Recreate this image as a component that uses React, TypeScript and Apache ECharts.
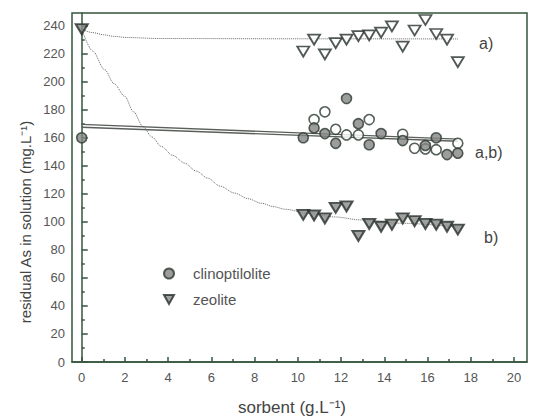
import React, { useEffect, useRef } from "react";
import * as echarts from "echarts";

// x positions of measured points (g/L)
const xPts = [10.25, 10.75, 11.25, 11.75, 12.25, 12.8, 13.3, 13.85, 14.35, 14.85, 15.4, 15.9, 16.4, 16.9, 17.4];

// zeolite a) (open triangles)
const zeoliteA = [221.5, 230, 219.5, 227.5, 230, 232.5, 233, 235, 239.5, 225, 236.5, 244, 234, 230, 214];
// zeolite b) (filled triangles)
const zeoliteB = [105, 104.5, 102.5, 110, 111, 90, 98.5, 96.5, 98, 102.5, 100.5, 98.5, 98, 96.5, 94.5];

// clinoptilolite filled circles [x, y]
const clinoFilled: [number, number][] = [
  [0, 160], [10.25, 160], [10.75, 167], [11.25, 163], [11.75, 156], [12.25, 188],
  [12.8, 170], [13.3, 155], [13.85, 163], [14.85, 158], [15.9, 154.5], [16.4, 160],
  [16.9, 148], [17.4, 149],
];
// clinoptilolite open circles [x, y]
const clinoOpen: [number, number][] = [
  [10.75, 173], [11.25, 178.5], [11.75, 166], [12.25, 162], [12.8, 162], [13.3, 173],
  [14.85, 162.5], [15.4, 152.5], [15.9, 152], [16.4, 151.5], [17.4, 156],
];
// zeolite start point (x = 0)
const zeoliteStart: [number, number][] = [[0, 237.5]];

// fitted curves
const fitA: [number, number][] = [
  [0, 237.5], [0.5, 235], [1, 233.5], [1.5, 232.3], [2.1, 231.5], [3.6, 230.8], [10, 230.6], [17.4, 230.5],
];
const fitB: [number, number][] = [
  [0, 237.5], [0.5, 222], [1.06, 208.6], [1.5, 198.5], [1.99, 189.5], [2.4, 178.5], [2.83, 168], [3.25, 160.5], [3.68, 153.8], [4.2, 147.5], [4.76, 141.9],
  [5.3, 136.2], [5.83, 131.2], [6.4, 125.5], [7.07, 120.5], [7.7, 116.5], [8.3, 113.3], [8.9, 110.8], [9.4, 109], [10.5, 106], [11.7, 103.5], [12.9, 101.4], [14.8, 99], [17.4, 96.3],
];
const lineAB1: [number, number][] = [[0, 169.5], [17.4, 159]];
const lineAB2: [number, number][] = [[0, 167.5], [17.4, 157.5]];

const xMajor = [0, 2, 4, 6, 8, 10, 12, 14, 16, 18, 20];
const xMinor = [1, 3, 5, 7, 9, 11, 13, 15, 17, 19];
const yMajor = [0, 20, 40, 60, 80, 100, 120, 140, 160, 180, 200, 220, 240];
const yMinor = [10, 30, 50, 70, 90, 110, 130, 150, 170, 190, 210, 230];

const FRAME = "#34563e";
const LABEL = "#555";
const FONT = "Liberation Sans, Arial, sans-serif";
const TRI_DOWN = "path://M0,0 L10,0 L5,9 Z";

export default function App() {
  const ref = useRef<HTMLDivElement>(null);
  useEffect(() => {
    if (!ref.current) return;
    const chart = echarts.init(ref.current, null, { renderer: "svg" });
    const xMin = -0.45;
    const xMax = 20.6;
    const yMin = 0;
    const yMax = 249;
    const filledCircle = { color: "#858585", borderColor: "#2b3a2f", borderWidth: 1.6 };
    const openCircle = { color: "#ffffff", borderColor: "#2b3a2f", borderWidth: 1.6 };
    const filledTri = { color: "#8a8a8a", borderColor: "#26302a", borderWidth: 2 };
    const openTri = { color: "#ffffff", borderColor: "#26302a", borderWidth: 1.8 };
    chart.setOption({
      animation: false,
      backgroundColor: "#ffffff",
      textStyle: { fontFamily: FONT },
      grid: {
        left: 72, right: 7, top: 13, bottom: 55,
        show: true, borderColor: FRAME, borderWidth: 1.5, backgroundColor: "transparent",
      },
      xAxis: [
        {
          type: "value", min: xMin, max: xMax, position: "bottom",
          axisLine: { show: true, lineStyle: { color: FRAME, width: 1.5 } },
          axisTick: { show: true, inside: true, length: 5, customValues: xMajor, lineStyle: { color: FRAME, width: 1.5 } },
          axisLabel: { show: true, customValues: xMajor, color: LABEL, fontSize: 13, margin: 9, fontFamily: FONT },
          splitLine: { show: false },
        },
        {
          type: "value", min: xMin, max: xMax, position: "bottom",
          axisLine: { show: false },
          axisTick: { show: true, inside: true, length: 3, customValues: xMinor, lineStyle: { color: FRAME, width: 1.5 } },
          axisLabel: { show: false },
          splitLine: { show: false },
        },
      ],
      yAxis: [
        {
          type: "value", min: yMin, max: yMax, position: "left",
          axisLine: { show: true, lineStyle: { color: FRAME, width: 1.5 } },
          axisTick: { show: true, inside: true, length: 6, customValues: yMajor, lineStyle: { color: FRAME, width: 1.5 } },
          axisLabel: { show: true, customValues: yMajor, color: LABEL, fontSize: 13, margin: 7, fontFamily: FONT },
          splitLine: { show: false },
        },
        {
          type: "value", min: yMin, max: yMax, position: "left", offset: 0,
          axisLine: { show: false },
          axisTick: { show: true, inside: true, length: 3, customValues: yMinor, lineStyle: { color: FRAME, width: 1.5 } },
          axisLabel: { show: false },
          splitLine: { show: false },
        },
      ],
      legend: {
        show: true,
        orient: "vertical",
        left: 158, top: 261,
        itemWidth: 10, itemHeight: 10, itemGap: 11,
        data: ["clinoptilolite", "zeolite"],
        textStyle: { color: LABEL, fontSize: 15, fontFamily: FONT, padding: [0, 0, 0, 14] },
        selectedMode: false,
      },
      graphic: [
        {
          type: "text", x: 25, y: 222, rotation: Math.PI / 2,
          style: { text: "residual As in solution (mg.L\u207B\u00B9)", fill: "#444", fontSize: 15, fontFamily: FONT, align: "center", verticalAlign: "middle" },
        },
        {
          type: "text", x: 292, y: 407,
          style: { text: "sorbent (g.L\u207B\u00B9)", fill: "#444", fontSize: 17, fontFamily: FONT, align: "center", verticalAlign: "middle" },
        },
        { type: "text", x: 479, y: 43, style: { text: "a)", fill: "#444", fontSize: 16, fontFamily: FONT, align: "left", verticalAlign: "middle" } },
        { type: "text", x: 475, y: 152, style: { text: "a,b)", fill: "#444", fontSize: 16, fontFamily: FONT, align: "left", verticalAlign: "middle" } },
        { type: "text", x: 484, y: 237, style: { text: "b)", fill: "#444", fontSize: 16, fontFamily: FONT, align: "left", verticalAlign: "middle" } },
      ],
      series: [
        { name: "fit a", type: "line", data: fitA, smooth: 0.3, smoothMonotone: "x", showSymbol: false, lineStyle: { color: "#666", width: 1, type: "dotted" }, z: 1, silent: true },
        { name: "fit b", type: "line", data: fitB, smooth: 0.3, smoothMonotone: "x", showSymbol: false, lineStyle: { color: "#666", width: 1, type: "dotted" }, z: 1, silent: true },
        { name: "fit ab1", type: "line", data: lineAB1, showSymbol: false, lineStyle: { color: "#5a5f5a", width: 1.3 }, z: 1, silent: true },
        { name: "fit ab2", type: "line", data: lineAB2, showSymbol: false, lineStyle: { color: "#5a5f5a", width: 1.3 }, z: 1, silent: true },
        { name: "clinoptilolite", type: "scatter", data: clinoFilled, symbol: "circle", symbolSize: 10, itemStyle: filledCircle, z: 3 },
        { name: "clinoptilolite open", type: "scatter", data: clinoOpen, symbol: "circle", symbolSize: 10, itemStyle: openCircle, z: 2 },
        { name: "zeolite", type: "scatter", data: [...zeoliteStart, ...xPts.map((x, i) => [x, zeoliteB[i]])], symbol: TRI_DOWN, symbolSize: [12, 10], itemStyle: filledTri, z: 3 },
        { name: "zeolite a", type: "scatter", data: xPts.map((x, i) => [x, zeoliteA[i]]), symbol: TRI_DOWN, symbolSize: [12, 10], itemStyle: openTri, z: 3 },
      ],
    });
    return () => chart.dispose();
  }, []);
  return <div ref={ref} style={{ position: "fixed", left: 0, top: 0, width: 534, height: 417 }} />;
}
